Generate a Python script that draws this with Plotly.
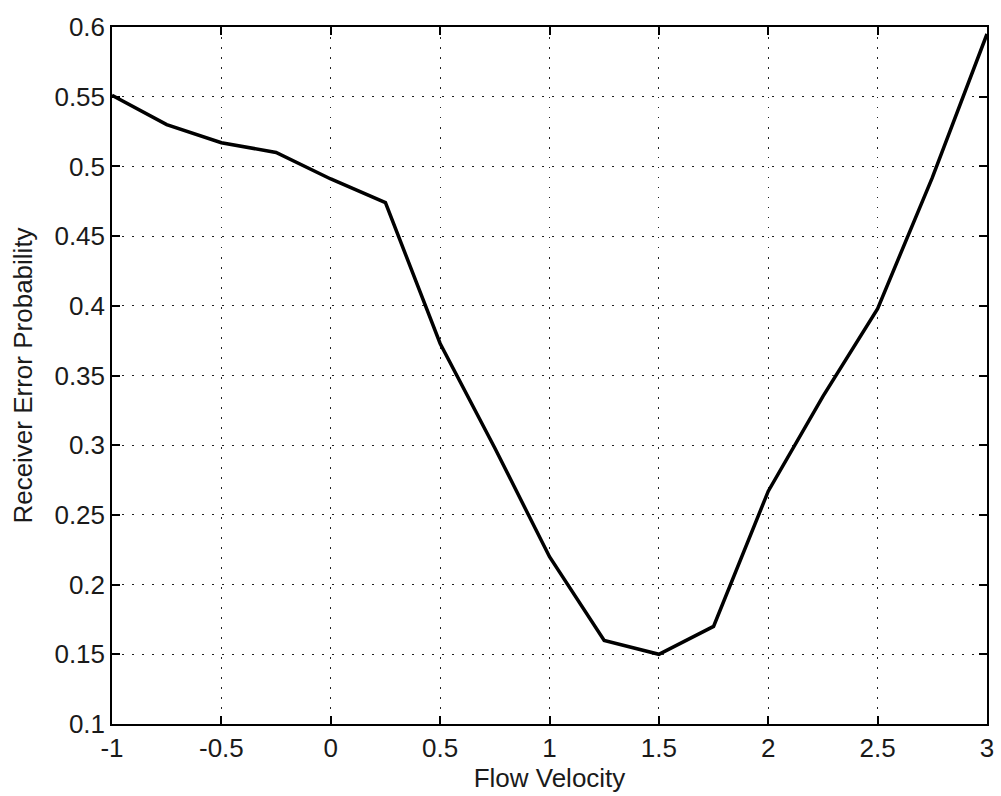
import plotly.graph_objects as go

flow_velocity = [-1, -0.75, -0.5, -0.25, 0, 0.25, 0.5, 0.75, 1, 1.25, 1.5, 1.75, 2, 2.25, 2.5, 2.75, 3]
error_prob = [0.551, 0.530, 0.517, 0.510, 0.491, 0.474, 0.373, 0.298, 0.220, 0.160, 0.150, 0.170, 0.267, 0.335, 0.398, 0.492, 0.595]

x_ticks = [-1, -0.5, 0, 0.5, 1, 1.5, 2, 2.5, 3]
x_tick_text = ["-1", "-0.5", "0", "0.5", "1", "1.5", "2", "2.5", "3"]
y_ticks = [0.1, 0.15, 0.2, 0.25, 0.3, 0.35, 0.4, 0.45, 0.5, 0.55, 0.6]
y_tick_text = ["0.1", "0.15", "0.2", "0.25", "0.3", "0.35", "0.4", "0.45", "0.5", "0.55", "0.6"]

font_family = "Liberation Sans, Arial, sans-serif"
text_color = "#1a1a1a"

fig = go.Figure()
fig.add_trace(go.Scatter(x=flow_velocity, y=error_prob, mode="lines",
                         line=dict(color="black", width=3.5), showlegend=False))

axis_common = dict(
    showline=True, linecolor="black", linewidth=1.5, mirror="ticks",
    ticks="inside", ticklen=8, tickwidth=1.5, tickcolor="black",
    showgrid=True, gridcolor="#222222", gridwidth=1.2, griddash="1.5px,8.5px",
    zeroline=False, tickfont=dict(family=font_family, size=26, color=text_color),
)

fig.update_xaxes(range=[-1, 3], tickvals=x_ticks, ticktext=x_tick_text,
                 title=dict(text="Flow Velocity", font=dict(family=font_family, size=26, color=text_color), standoff=6),
                 **axis_common)
fig.update_yaxes(range=[0.1, 0.6], tickvals=y_ticks, ticktext=y_tick_text,
                 title=dict(text="Receiver Error Probability", font=dict(family=font_family, size=26, color=text_color), standoff=14),
                 **axis_common)

fig.update_layout(
    width=1001, height=796,
    margin=dict(l=112, r=7, t=27, b=72),
    plot_bgcolor="white", paper_bgcolor="white",
)

fig.write_html("out.html")
